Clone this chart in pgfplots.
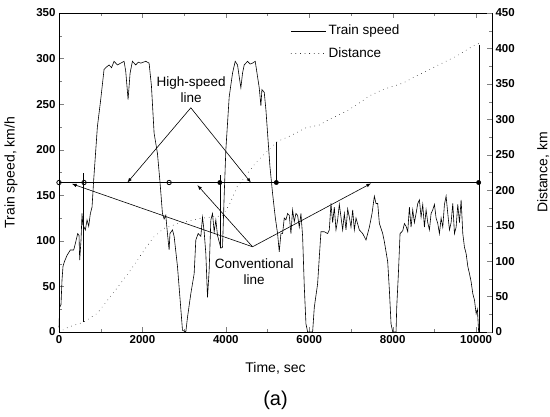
\documentclass[border=0pt]{standalone}
\usepackage{pgfplots}
\pgfplotsset{compat=1.18}
\usepackage{fontspec}
\setmainfont{Liberation Sans}
\begin{document}
\begin{tikzpicture}
\path[use as bounding box] (-59pt,-85pt) rectangle (491pt,332pt);
\begin{axis}[
  width=433pt, height=319pt, scale only axis,
  xmin=0, xmax=10380, ymin=0, ymax=350,
  xtick={0,2000,...,10000}, minor x tick num=1,
  ytick={0,50,...,350}, minor y tick num=1,
  scaled x ticks=false,
  ytick pos=left, xtick pos=both,
  tick align=inside, major tick length=5pt, minor tick length=3pt,
  ticklabel style={font=\fontsize{11.5}{13}\selectfont\bfseries},
  /pgf/number format/assume math mode=true,
  /pgf/number format/1000 sep={},
  xlabel={Time, sec}, ylabel={Train speed, km/h},
  every axis x label/.style={at={(axis description cs:0.5,-0.113)}, anchor=center, font=\fontsize{14}{16}\selectfont},
  every axis y label/.style={at={(axis description cs:-0.111,0.5)}, anchor=center, rotate=90, font=\fontsize{14}{16}\selectfont},
  axis line style={line width=0.8pt},
  clip=false,
]
\addplot[black, line width=0.6pt] coordinates {
(0,5) (16,27) (48,30) (72,57) (96,72) (128,77) (192,84) (272,90) (352,90) (392,97)
(448,108) (480,106) (496,79) (528,101) (552,130) (570,118) (632,112) (672,123) (712,116)
(752,130) (792,137) (832,167) (920,225) (1000,255) (1080,288) (1120,290) (1200,293)
(1260,290) (1320,297) (1400,293) (1480,295) (1560,297) (1600,286) (1656,255) (1704,284)
(1760,297) (1840,293) (1900,296) (1960,295) (2080,297) (2160,295) (2216,270) (2280,218)
(2360,196) (2424,163) (2480,130) (2520,124) (2560,128) (2600,108) (2640,90) (2660,108)
(2720,112) (2760,105) (2840,72) (2904,35) (2960,2) (3040,0) (3080,16) (3160,42) (3240,64)
(3280,101) (3336,108) (3400,105) (3440,126) (3480,110) (3520,86) (3560,38) (3600,68)
(3640,123) (3680,130) (3720,110) (3760,123) (3800,106) (3880,92) (3920,93) (3960,150)
(4000,200) (4080,258) (4160,284) (4224,297) (4280,293) (4320,280) (4360,268) (4400,284)
(4440,293) (4520,297) (4580,294) (4640,295) (4704,297) (4760,280) (4800,268) (4840,248)
(4864,266) (4920,263) (4960,244) (5000,218) (5056,182) (5120,152) (5184,126) (5240,108)
(5280,88) (5320,108) (5360,108) (5400,125) (5440,123) (5480,130) (5520,128) (5560,108)
(5600,134) (5640,121) (5680,130) (5720,128) (5760,115) (5800,130) (5840,105) (5880,50)
(5920,9) (5960,0) (6080,0) (6120,27) (6200,53) (6240,82) (6280,110) (6360,110) (6440,108)
(6480,112) (6520,141) (6560,120) (6600,137) (6640,112) (6680,123) (6720,140) (6760,126)
(6800,112) (6840,130) (6880,112) (6920,135) (6960,126) (7000,115) (7040,134) (7080,112)
(7120,125) (7200,112) (7280,108) (7360,101) (7440,115) (7504,130) (7560,149) (7600,141)
(7640,141) (7680,119) (7760,108) (7800,99) (7840,88) (7880,77) (7920,46) (7960,9) (8000,0)
(8080,0) (8096,27) (8136,64) (8176,108) (8240,111) (8280,119) (8320,116) (8360,110)
(8400,137) (8440,115) (8480,134) (8520,120) (8560,130) (8600,141) (8640,145) (8680,126)
(8720,140) (8760,115) (8800,134) (8840,120) (8880,112) (8920,130) (8960,134) (9000,140)
(9040,125) (9080,119) (9120,108) (9160,125) (9200,115) (9240,140) (9280,149) (9320,130)
(9360,112) (9400,120) (9440,141) (9480,108) (9520,115) (9560,140) (9600,120) (9640,145)
(9680,108) (9720,93) (9760,86) (9800,72) (9840,64) (9880,55) (9920,42) (9960,35)
(10000,20) (10030,25) (10060,0)
};
% boundary vertical segments
\addplot[black, line width=0.6pt] coordinates {(590,11) (590,174)};
\addplot[black, line width=0.6pt] coordinates {(3870,92) (3870,172)};
\addplot[black, line width=0.6pt] coordinates {(5210,164) (5210,209)};
\addplot[black, line width=0.6pt] coordinates {(10080,0) (10080,315)};
% section line
\addplot[black, line width=0.6pt] coordinates {(0,164) (10060,164)};
\addplot[only marks, mark=o, mark size=2.2pt, black, fill=white, mark options={line width=0.8pt}] coordinates {(0,164) (600,164) (2640,164)};
\addplot[only marks, mark=*, mark size=2.2pt, black] coordinates {(3856,164) (5210,164) (10060,164)};
% annotations
\draw[-latex, line width=0.6pt] (axis cs:3160,246) -- (axis cs:1640,164);
\draw[-latex, line width=0.6pt] (axis cs:3160,246) -- (axis cs:4600,164);
\draw[-latex, line width=0.6pt] (axis cs:4640,93.5) -- (axis cs:312,162.5);
\draw[-latex, line width=0.6pt] (axis cs:4640,93.5) -- (axis cs:3320,161);
\draw[-latex, line width=0.6pt] (axis cs:4640,93.5) -- (axis cs:7480,163);
\node[align=center, font=\fontsize{13.5}{16}\selectfont] at (axis cs:3168,266) {High-speed\\line};
\node[align=center, font=\fontsize{13.5}{16}\selectfont] at (axis cs:4680,66) {Conventional\\line};
\node[font=\fontsize{20}{22}\selectfont] at (axis description cs:0.5,-0.215) {(a)};
\end{axis}
\begin{axis}[
  width=433pt, height=319pt, scale only axis,
  xmin=0, xmax=10380, ymin=0, ymax=450,
  axis x line=none, axis y line*=right,
  ytick={0,50,...,450}, minor y tick num=1,
  tick align=inside, major tick length=5pt, minor tick length=3pt,
  ticklabel style={font=\fontsize{11.5}{13}\selectfont\bfseries},
  /pgf/number format/assume math mode=true,
  ylabel={Distance, km},
  every axis y label/.style={at={(axis description cs:1.118,0.5)}, anchor=center, rotate=90, font=\fontsize{14}{16}\selectfont},
  axis line style={line width=0.8pt},
  legend style={draw=none, fill=none, at={(axis description cs:0.528,0.975)}, anchor=north west,
    font=\fontsize{13.5}{15}\selectfont, row sep=7pt},
  legend cell align=left,
  legend image code/.code={\draw[#1] (0pt,0pt) -- (35pt,0pt);},
]
\addlegendimage{black, line width=0.6pt}
\addlegendentry{Train speed}
\addplot[black, line width=0.7pt, line cap=round, dash pattern=on 0.1pt off 4.5pt] coordinates {
(0,0) (232,7) (592,14) (912,26) (1352,59) (1712,87) (2072,118) (2272,134) (2512,146)
(2900,154) (3360,160) (3912,164) (4080,179) (4272,205) (4720,239) (4960,253) (5200,267)
(5240,269) (5520,276) (5920,288) (6240,292) (6480,300) (6880,311) (7200,323) (7440,333)
(7760,342) (8240,351) (8560,361) (9040,375) (9520,389) (10000,406) (10080,407)
};
\addlegendentry{Distance}
\end{axis}
\end{tikzpicture}
\end{document}
